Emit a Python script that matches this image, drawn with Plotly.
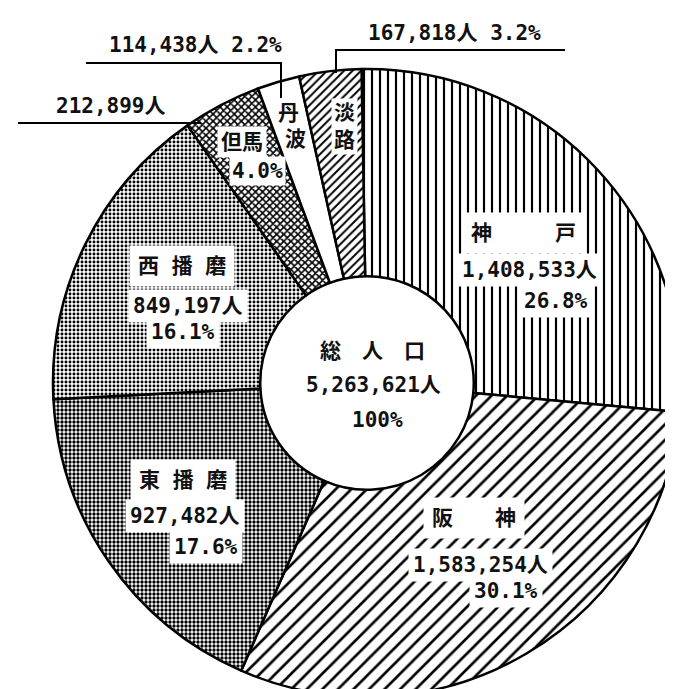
import plotly.graph_objects as go

# ---- data ----
regions = ["神戸", "阪神", "東播磨", "西播磨", "但馬", "丹波", "淡路"]
population = [1408533, 1583254, 927482, 849197, 212899, 114438, 167818]
percent = ["26.8%", "30.1%", "17.6%", "16.1%", "4.0%", "2.2%", "3.2%"]
total_label = "5,263,621人"
total_pct = "100%"

# ---- styles ----
shapes_pat = ["|", "/", ".", ".", "x", "", "/"]
sizes_pat = [8, 11, 4, 4, 5, 8, 6]
solid_pat = [0.27, 0.24, 0.55, 0.42, 0.55, 0.3, 0.32]

W, H = 673, 689
FONT = "DejaVu Sans Mono, Noto Sans CJK JP"


def px(x):
    return x / W


def py(y):
    return 1 - y / H


fig = go.Figure()
fig.add_trace(go.Pie(
    labels=regions,
    values=population,
    sort=False,
    direction="clockwise",
    rotation=-1,
    hole=0.34,
    textinfo="none",
    hoverinfo="none",
    showlegend=False,
    domain=dict(x=[px(45), 1.0], y=[0.0, py(61)]),
    marker=dict(
        colors=["white"] * 7,
        line=dict(color="black", width=2.5),
        pattern=dict(shape=shapes_pat, size=sizes_pat, solidity=solid_pat,
                     fgcolor="black", bgcolor="white", fillmode="replace"),
    ),
))

ann = []


def add(text, x, y, bg=True, size=21, pad=3):
    ann.append(dict(text=f"<b>{text}</b>", x=px(x), y=py(y), xref="paper", yref="paper",
                    showarrow=False, xanchor="center", yanchor="middle",
                    font=dict(family=FONT, size=size, color="#111"),
                    bgcolor="white" if bg else "rgba(0,0,0,0)", borderpad=pad))


# 神戸
add("神\u3000\u3000\u3000戸", 515, 225, pad=8)
add(f"{population[0]:,}人", 521, 262, pad=4)
add(percent[0], 548, 293, pad=4)
# 阪神
add("阪\u3000\u3000神", 466, 510, pad=8)
add(f"{population[1]:,}人", 473, 557, pad=4)
add(percent[1], 498, 583, pad=4)
# 東播磨
add("東 播 磨", 175, 472, pad=8)
add(f"{population[2]:,}人", 177, 508, pad=4)
add(percent[2], 198, 539, pad=4)
# 西播磨
add("西 播 磨", 174, 258, pad=8)
add(f"{population[3]:,}人", 180, 298, pad=4)
add(percent[3], 175, 324, pad=4)
# 但馬
add("但馬", 234, 134, pad=3)
add(percent[4], 249, 163, pad=2)
# 丹波
add("丹", 280, 105, bg=False)
add("波", 287, 131, bg=False)
# 淡路
add("淡<br>路", 336, 118, pad=2)
# outer labels
add(f"{population[6]:,}人 {percent[6]}", 446, 25, bg=False)
add(f"{population[5]:,}人 {percent[5]}", 187, 37, bg=False)
add(f"{population[4]:,}人", 103, 98, bg=False)
# center
add("総\u3000人\u3000口", 364, 343, bg=False)
add(total_label, 365, 377, bg=False)
add(total_pct, 369, 412, bg=False)

line = dict(color="black", width=2)
shapes = [
    dict(type="path", xref="paper", yref="paper",
         path=f"M {px(328)},{py(65)} L {px(328)},{py(42)} L {px(557)},{py(42)}", line=line),
    dict(type="path", xref="paper", yref="paper",
         path=f"M {px(78)},{py(55)} L {px(273)},{py(55)} L {px(273)},{py(90)}", line=line),
    dict(type="line", xref="paper", yref="paper",
         x0=px(10), y0=py(115), x1=px(193), y1=py(115), line=line),
]

fig.update_layout(
    width=W, height=H,
    margin=dict(l=0, r=0, t=0, b=0),
    paper_bgcolor="white", plot_bgcolor="white",
    annotations=ann, shapes=shapes,
)

fig.write_html("out.html")
